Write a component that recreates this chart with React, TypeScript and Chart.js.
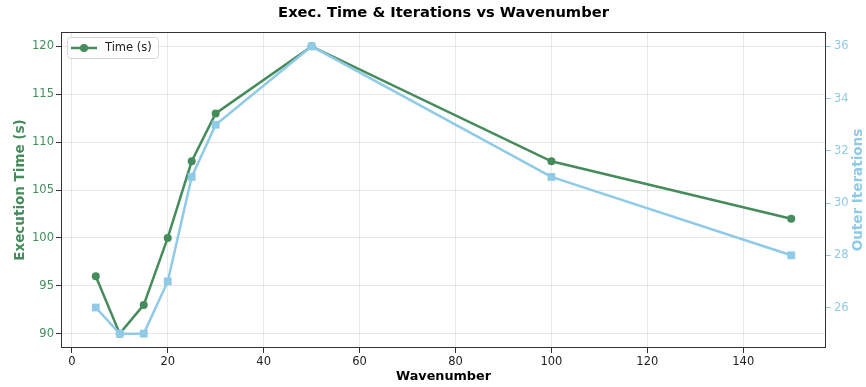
import React, { useEffect, useRef } from "react";
import { Chart, registerables } from "chart.js";

Chart.register(...registerables);

const wavenumbers = [5, 10, 15, 20, 25, 30, 50, 100, 150];
const timeSeconds = [96, 90, 93, 100, 108, 113, 120, 108, 102];
const outerIterations = [26, 25, 25, 27, 31, 33, 36, 31, 28];
const xTickValues = [0, 20, 40, 60, 80, 100, 120, 140];
const timeTickValues = [90, 95, 100, 105, 110, 115, 120];
const iterTickValues = [26, 28, 30, 32, 34, 36];

const TITLE = "Exec. Time & Iterations vs Wavenumber";
const GREEN = "#468B5C";
const BLUE = "#8FCAE7";
const FONT = "'DejaVu Sans', sans-serif";

const framePlugin = {
  id: "frameAndLegend",
  afterDatasetsDraw(chart: any) {
    const { ctx, chartArea } = chart;
    ctx.save();
    // legend box
    const lx = 67.5, ly = 37.5, lw = 91, lh = 21;
    ctx.fillStyle = "rgba(255,255,255,0.8)";
    ctx.strokeStyle = "#d6d6d6";
    ctx.lineWidth = 1;
    ctx.beginPath();
    (ctx as any).roundRect(lx, ly, lw, lh, 3);
    ctx.fill();
    ctx.stroke();
    ctx.strokeStyle = GREEN;
    ctx.lineWidth = 2.5;
    ctx.beginPath();
    ctx.moveTo(71, 48);
    ctx.lineTo(97, 48);
    ctx.stroke();
    ctx.fillStyle = GREEN;
    ctx.beginPath();
    ctx.arc(84, 48, 4, 0, Math.PI * 2);
    ctx.fill();
    ctx.fillStyle = "#222";
    ctx.font = `11.5px ${FONT}`;
    ctx.textBaseline = "middle";
    ctx.textAlign = "left";
    ctx.fillText(chart.data.datasets[0].label, 105, 48.5);
    // frame
    ctx.strokeStyle = "#333";
    ctx.lineWidth = 1;
    ctx.strokeRect(
      Math.round(chartArea.left) + 0.5,
      Math.round(chartArea.top) + 0.5,
      Math.round(chartArea.right - chartArea.left) - 1,
      Math.round(chartArea.bottom - chartArea.top) - 1
    );
    // chart title centred over the plot area
    ctx.fillStyle = "#000";
    ctx.font = `bold 14.7px ${FONT}`;
    ctx.textAlign = "center";
    ctx.textBaseline = "middle";
    ctx.fillText(TITLE, (chartArea.left + chartArea.right) / 2, 12.7);
    // right axis title (reads bottom to top)
    ctx.translate(858, (chartArea.top + chartArea.bottom) / 2);
    ctx.rotate(-Math.PI / 2);
    ctx.fillStyle = BLUE;
    ctx.font = `bold 13.5px ${FONT}`;
    ctx.fillText("Outer Iterations", 0, 0);
    ctx.restore();
  },
};

const gridColor = "rgba(176,176,176,0.3)";

export default function App() {
  const ref = useRef<HTMLCanvasElement>(null);
  useEffect(() => {
    const chart = new Chart(ref.current as HTMLCanvasElement, {
      type: "line",
      data: {
        datasets: [
          {
            label: "Time (s)",
            data: wavenumbers.map((x, i) => ({ x, y: timeSeconds[i] })),
            borderColor: GREEN,
            backgroundColor: GREEN,
            borderWidth: 2.5,
            pointRadius: 4,
            pointBorderWidth: 0,
            pointStyle: "circle",
            yAxisID: "y",
            order: 1,
          },
          {
            label: "Outer Iterations",
            data: wavenumbers.map((x, i) => ({ x, y: outerIterations[i] })),
            borderColor: BLUE,
            backgroundColor: BLUE,
            borderWidth: 2.5,
            pointRadius: 5.5,
            pointBorderWidth: 0,
            pointStyle: "rect",
            yAxisID: "y2",
            order: 0,
          },
        ],
      },
      options: {
        animation: false,
        responsive: false,
        layout: { padding: { top: 32, left: 0, right: 0, bottom: 0 } },
        plugins: {
          legend: { display: false },
          tooltip: { enabled: false },
          title: { display: false },
        },
        scales: {
          x: {
            type: "linear",
            min: -2.25,
            max: 157.25,
            afterBuildTicks: (s: any) => {
              s.ticks = xTickValues.map((v) => ({ value: v }));
            },
            afterFit: (s: any) => {
              s.height = 39;
            },
            grid: { color: gridColor, lineWidth: 1, tickLength: 5, tickColor: "#333" },
            border: { display: false },
            ticks: { color: "#222", font: { family: FONT, size: 11.5 }, padding: 2, maxRotation: 0 },
            title: {
              display: true,
              text: "Wavenumber",
              color: "#000",
              font: { family: FONT, size: 12.8, weight: "bold", lineHeight: 1.2 },
              padding: { top: 0, bottom: 2.3 },
            },
          },
          y: {
            type: "linear",
            position: "left",
            min: 88.5,
            max: 121.5,
            afterBuildTicks: (s: any) => {
              s.ticks = timeTickValues.map((v) => ({ value: v }));
            },
            afterFit: (s: any) => {
              s.width = 61;
            },
            grid: { color: gridColor, lineWidth: 1, tickLength: 5, tickColor: "#333" },
            border: { display: false },
            ticks: { color: GREEN, font: { family: FONT, size: 11.5 }, padding: 2 },
            title: {
              display: true,
              text: "Execution Time (s)",
              color: GREEN,
              font: { family: FONT, size: 13.5, weight: "bold", lineHeight: 1.2 },
              padding: { top: 11.9, bottom: 0 },
            },
          },
          y2: {
            type: "linear",
            position: "right",
            min: 24.45,
            max: 36.55,
            afterBuildTicks: (s: any) => {
              s.ticks = iterTickValues.map((v) => ({ value: v }));
            },
            afterFit: (s: any) => {
              s.width = 40;
            },
            grid: { drawOnChartArea: false, tickLength: 5, tickColor: BLUE },
            border: { display: false },
            ticks: { color: BLUE, font: { family: FONT, size: 11.5 }, padding: 3 },
          },
        },
      } as any,
      plugins: [framePlugin],
    });
    return () => chart.destroy();
  }, []);
  return (
    <div style={{ position: "fixed", left: 0, top: 0, width: 866, height: 387, background: "#fff" }}>
      <canvas ref={ref} width={866} height={387} style={{ display: "block" }} />
    </div>
  );
}
